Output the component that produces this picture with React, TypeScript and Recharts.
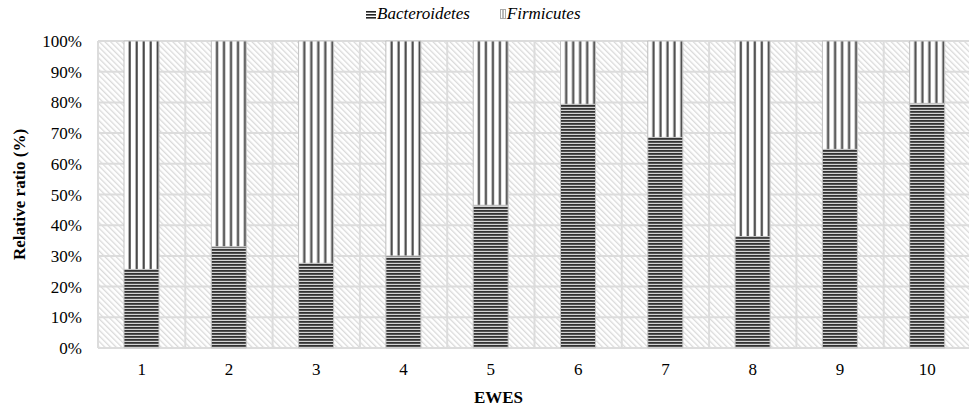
import React from 'react';
import { BarChart, Bar, XAxis, YAxis, CartesianGrid, Label } from 'recharts';

const ewes = ['1', '2', '3', '4', '5', '6', '7', '8', '9', '10'];
const bacteroidetes = [25.6, 33.0, 27.6, 30.0, 46.5, 79.4, 68.6, 36.3, 64.7, 79.7];
const firmicutes = [74.4, 67.0, 72.4, 70.0, 53.5, 20.6, 31.4, 63.7, 35.3, 20.3];
const yTicks = [0, 10, 20, 30, 40, 50, 60, 70, 80, 90, 100];

const data = ewes.map((ewe, i) => ({
    ewe,
    bacteroidetes: bacteroidetes[i],
    firmicutes: firmicutes[i],
}));

const FONT = "'Liberation Serif', Tinos, 'DejaVu Serif', serif";

const LegendBox = () => (
    <div
        style={{
            position: 'absolute',
            left: 366,
            top: 4,
            display: 'flex',
            alignItems: 'center',
            fontFamily: FONT,
            fontSize: 17,
            fontStyle: 'italic',
            color: '#000',
            whiteSpace: 'nowrap',
        }}
    >
        <svg width={10} height={9} style={{ marginRight: 1 }}>
            <rect x={0} y={1} width={10} height={1.6} fill="#222" />
            <rect x={0} y={4} width={10} height={1.6} fill="#222" />
            <rect x={0} y={7} width={10} height={1.6} fill="#222" />
        </svg>
        <span>Bacteroidetes</span>
        <svg width={6} height={10} style={{ marginLeft: 30, marginRight: 1 }}>
            <rect x={0.5} y={0.5} width={5} height={9} fill="#fff" stroke="#aaa" strokeWidth={1} />
            <rect x={2.5} y={1} width={1} height={8} fill="#777" />
        </svg>
        <span>Firmicutes</span>
    </div>
);

export default function App() {
    return (
        <div style={{ position: 'fixed', left: 0, top: 0, width: 969, height: 411, overflow: 'hidden', background: '#fff' }}>
            <BarChart
                width={971}
                height={411}
                data={data}
                margin={{ top: 41, right: 0, left: 0, bottom: 0 }}
                barSize={35}
            >
                <defs>
                    <pattern id="hatchBg" patternUnits="userSpaceOnUse" width={4} height={4} patternTransform="rotate(-45)">
                        <rect x={0} y={0} width={4} height={4} fill="#fff" />
                        <rect x={0} y={0} width={1.3} height={4} fill="#dadada" />
                    </pattern>
                    <pattern id="horizLines" patternUnits="userSpaceOnUse" width={4} height={3}>
                        <rect x={0} y={0} width={4} height={3} fill="#d4d4d4" />
                        <rect x={0} y={0} width={4} height={1.8} fill="#333" />
                    </pattern>
                    <pattern id="vertLines" patternUnits="objectBoundingBox" width={0.2} height={1}>
                        <rect x={0} y={0} width={7} height={400} fill="#fff" />
                        <rect x={4.6} y={0} width={2.2} height={400} fill="#4a4a4a" />
                    </pattern>
                </defs>
                <CartesianGrid
                    fill="url(#hatchBg)"
                    stroke="#dcdcdc"
                    strokeWidth={2}
                    verticalCoordinatesGenerator={({ offset }: any) =>
                        ewes.concat(['']).map((_, i) => offset.left + (i * offset.width) / ewes.length)
                    }
                />
                <XAxis
                    dataKey="ewe"
                    height={63}
                    axisLine={false}
                    tickLine={false}
                    tickSize={13}
                    tickMargin={2}
                    tick={{ fontFamily: FONT, fontSize: 17, fill: '#000' }}
                >
                    <Label
                        content={({ viewBox }: any) => (
                            <text
                                x={viewBox.x + viewBox.width / 2 - 36}
                                y={viewBox.y + 49}
                                textAnchor="middle"
                                dominantBaseline="central"
                                fontFamily={FONT}
                                fontSize={17}
                                fontWeight="bold"
                                fill="#000"
                            >
                                EWES
                            </text>
                        )}
                    />
                </XAxis>
                <YAxis
                    width={98}
                    domain={[0, 100]}
                    ticks={yTicks}
                    interval={0}
                    axisLine={false}
                    tickLine={false}
                    tickSize={14}
                    tickMargin={2}
                    tickFormatter={(v: number) => `${v}%`}
                    tick={{ fontFamily: FONT, fontSize: 17, fill: '#000' }}
                >
                    <Label
                        content={({ viewBox }: any) => {
                            const cx = viewBox.x + 19;
                            const cy = viewBox.y + viewBox.height / 2;
                            return (
                                <text
                                    x={cx}
                                    y={cy}
                                    transform={`rotate(-90, ${cx}, ${cy})`}
                                    textAnchor="middle"
                                    dominantBaseline="central"
                                    fontFamily={FONT}
                                    fontSize={17}
                                    fontWeight="bold"
                                    fill="#000"
                                >
                                    Relative ratio (%)
                                </text>
                            );
                        }}
                    />
                </YAxis>
                <Bar
                    dataKey="bacteroidetes"
                    stackId="a"
                    fill="url(#horizLines)"
                    stroke="#c4c4c4"
                    strokeWidth={1}
                    isAnimationActive={false}
                />
                <Bar
                    dataKey="firmicutes"
                    stackId="a"
                    fill="url(#vertLines)"
                    stroke="#c4c4c4"
                    strokeWidth={1}
                    isAnimationActive={false}
                />
            </BarChart>
            <LegendBox />
        </div>
    );
}
